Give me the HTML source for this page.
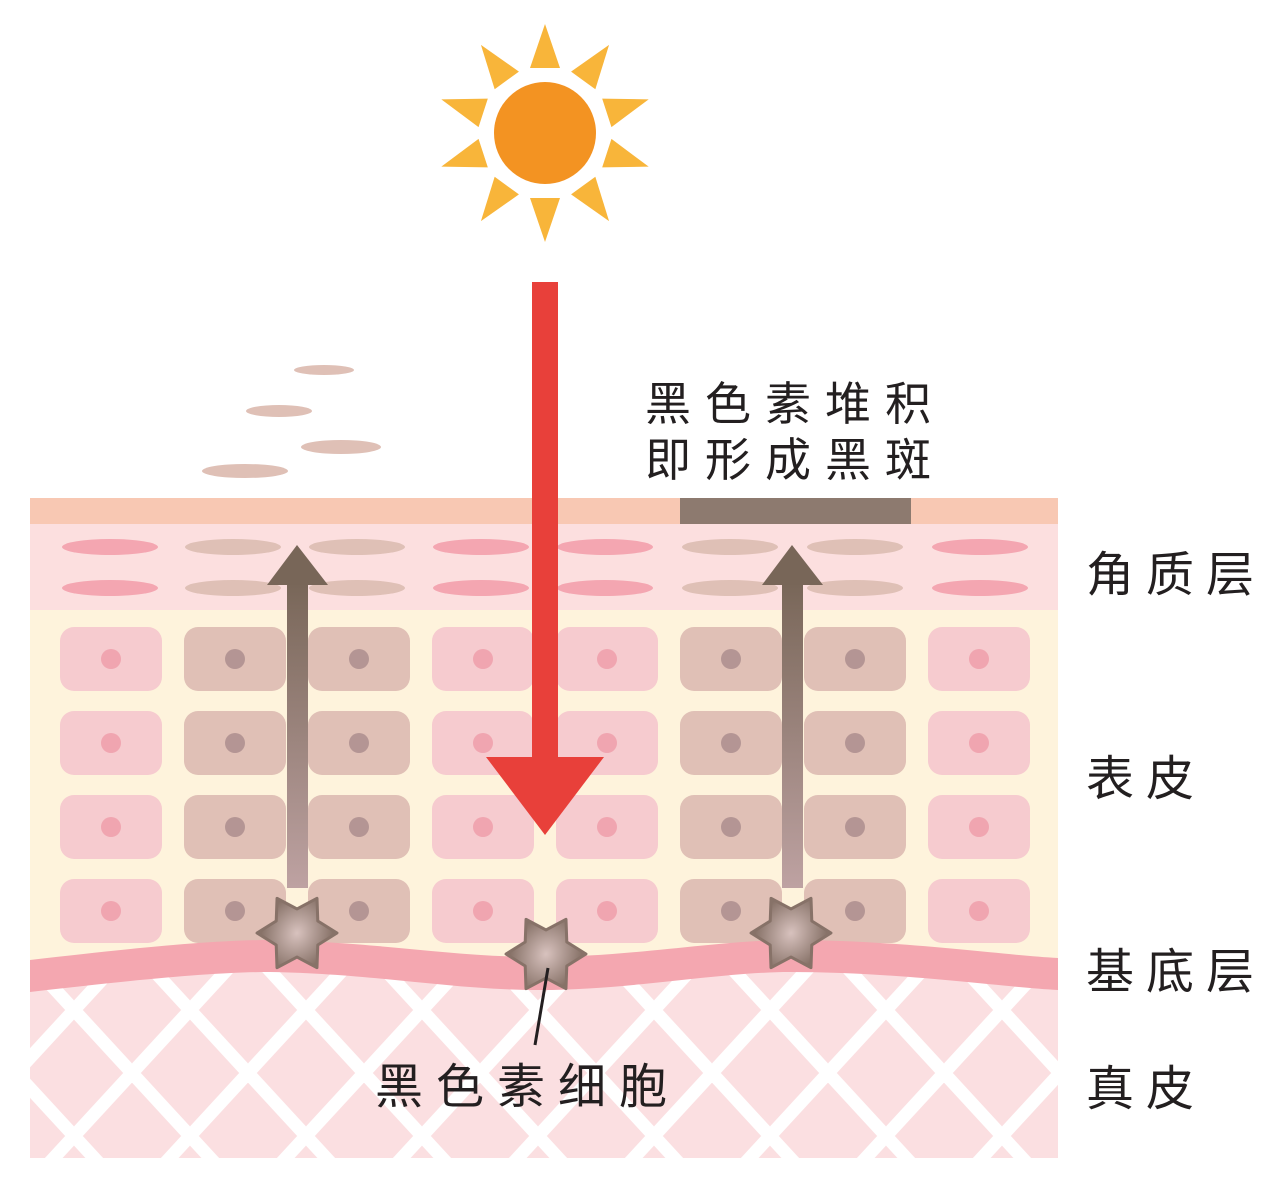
<!DOCTYPE html>
<html><head><meta charset="utf-8"><style>
html,body{margin:0;padding:0;background:#fff;}
svg{display:block;}
text{font-family:"Liberation Sans","Noto Sans CJK SC",sans-serif;fill:#231f20;}
</style></head><body>
<svg width="1280" height="1188" viewBox="0 0 1280 1188" xmlns="http://www.w3.org/2000/svg">
<defs>
<pattern id="lat" patternUnits="userSpaceOnUse" x="16" y="947" width="116" height="126">
<rect width="116" height="126" fill="#fbdfe1"/>
<line x1="-58" y1="-63" x2="174" y2="189" stroke="#fff" stroke-width="13"/>
<line x1="174" y1="-63" x2="-58" y2="189" stroke="#fff" stroke-width="13"/>
</pattern>
<linearGradient id="ag" x1="0" y1="0" x2="0" y2="1">
<stop offset="0" stop-color="#786658"/><stop offset="1" stop-color="#bea2a2"/>
</linearGradient>
<radialGradient id="sg" cx="0.5" cy="0.5" r="0.5">
<stop offset="0" stop-color="#d8c2be"/><stop offset="1" stop-color="#877268"/>
</radialGradient>
<g id="pc"><rect x="0" y="0" width="102" height="64" rx="14" fill="#f6cbcf"/><circle cx="51" cy="32" r="10" fill="#f0a5b0"/></g>
<g id="tc"><rect x="0" y="0" width="102" height="64" rx="14" fill="#e0c0b6"/><circle cx="51" cy="32" r="10" fill="#b49594"/></g>
<polygon id="star" points="0,-40 12,-20.8 34.6,-20 24,0 34.6,20 12,20.8 0,40 -12,20.8 -34.6,20 -24,0 -34.6,-20 -12,-20.8" fill="url(#sg)" stroke="#877268" stroke-width="3" stroke-linejoin="round"/>
<polygon id="ray" points="545,24 530,68 560,68" fill="#f8b53a"/>
</defs>

<!-- sun -->
<g>
<use href="#ray" transform="rotate(0 545 133)"/><use href="#ray" transform="rotate(36 545 133)"/>
<use href="#ray" transform="rotate(72 545 133)"/><use href="#ray" transform="rotate(108 545 133)"/>
<use href="#ray" transform="rotate(144 545 133)"/><use href="#ray" transform="rotate(180 545 133)"/>
<use href="#ray" transform="rotate(216 545 133)"/><use href="#ray" transform="rotate(252 545 133)"/>
<use href="#ray" transform="rotate(288 545 133)"/><use href="#ray" transform="rotate(324 545 133)"/>
<circle cx="545" cy="133" r="51" fill="#f39322"/>
</g>

<!-- flakes -->
<ellipse cx="324" cy="370" rx="30" ry="5" fill="#dfc0b6"/>
<ellipse cx="279" cy="411" rx="33" ry="6" fill="#dfc0b6"/>
<ellipse cx="341" cy="447" rx="40" ry="7" fill="#dfc0b6"/>
<ellipse cx="245" cy="471" rx="43" ry="7" fill="#dfc0b6"/>

<!-- layers -->
<rect x="30" y="498" width="1028" height="26" fill="#f8c8b3"/>
<rect x="680" y="498" width="231" height="26" fill="#8d7a6f"/>
<rect x="30" y="524" width="1028" height="86" fill="#fcdfdf"/>
<rect x="30" y="610" width="1028" height="370" fill="#fef3dc"/>
<rect x="30" y="960" width="1028" height="198" fill="url(#lat)"/>

<!-- corneum ellipses -->
<g>
<ellipse cx="110" cy="547" rx="48" ry="8" fill="#f4a6b1"/><ellipse cx="110" cy="588" rx="48" ry="8" fill="#f4a6b1"/>
<ellipse cx="233" cy="547" rx="48" ry="8" fill="#dfc0b6"/><ellipse cx="233" cy="588" rx="48" ry="8" fill="#dfc0b6"/>
<ellipse cx="357" cy="547" rx="48" ry="8" fill="#dfc0b6"/><ellipse cx="357" cy="588" rx="48" ry="8" fill="#dfc0b6"/>
<ellipse cx="481" cy="547" rx="48" ry="8" fill="#f4a6b1"/><ellipse cx="481" cy="588" rx="48" ry="8" fill="#f4a6b1"/>
<ellipse cx="605" cy="547" rx="48" ry="8" fill="#f4a6b1"/><ellipse cx="605" cy="588" rx="48" ry="8" fill="#f4a6b1"/>
<ellipse cx="730" cy="547" rx="48" ry="8" fill="#dfc0b6"/><ellipse cx="730" cy="588" rx="48" ry="8" fill="#dfc0b6"/>
<ellipse cx="855" cy="547" rx="48" ry="8" fill="#dfc0b6"/><ellipse cx="855" cy="588" rx="48" ry="8" fill="#dfc0b6"/>
<ellipse cx="980" cy="547" rx="48" ry="8" fill="#f4a6b1"/><ellipse cx="980" cy="588" rx="48" ry="8" fill="#f4a6b1"/>
</g>

<!-- cells -->
<g>
<use href="#pc" x="60" y="627"/><use href="#tc" x="184" y="627"/><use href="#tc" x="308" y="627"/><use href="#pc" x="432" y="627"/><use href="#pc" x="556" y="627"/><use href="#tc" x="680" y="627"/><use href="#tc" x="804" y="627"/><use href="#pc" x="928" y="627"/>
<use href="#pc" x="60" y="711"/><use href="#tc" x="184" y="711"/><use href="#tc" x="308" y="711"/><use href="#pc" x="432" y="711"/><use href="#pc" x="556" y="711"/><use href="#tc" x="680" y="711"/><use href="#tc" x="804" y="711"/><use href="#pc" x="928" y="711"/>
<use href="#pc" x="60" y="795"/><use href="#tc" x="184" y="795"/><use href="#tc" x="308" y="795"/><use href="#pc" x="432" y="795"/><use href="#pc" x="556" y="795"/><use href="#tc" x="680" y="795"/><use href="#tc" x="804" y="795"/><use href="#pc" x="928" y="795"/>
<use href="#pc" x="60" y="879"/><use href="#tc" x="184" y="879"/><use href="#tc" x="308" y="879"/><use href="#pc" x="432" y="879"/><use href="#pc" x="556" y="879"/><use href="#tc" x="680" y="879"/><use href="#tc" x="804" y="879"/><use href="#pc" x="928" y="879"/>
</g>

<!-- basal wave -->
<path d="M30,960 C150,946 220,940 270,940 C380,942 450,957 540,957 C630,957 720,940 790,940 C900,940 1000,955 1058,958 L1058,990 C1000,987 900,972 790,972 C720,972 630,990 540,990 C450,990 380,974 270,972 C220,972 150,978 30,992 Z" fill="#f4a7b0"/>

<!-- brown arrows -->
<rect x="287" y="582" width="21" height="306" fill="url(#ag)"/>
<polygon points="267,585 328,585 297,545" fill="#786658"/>
<rect x="782" y="582" width="21" height="306" fill="url(#ag)"/>
<polygon points="762,585 823,585 792,545" fill="#786658"/>

<!-- stars -->
<use href="#star" transform="translate(297 933) rotate(30)"/>
<use href="#star" transform="translate(546 954) rotate(30)"/>
<use href="#star" transform="translate(791 933) rotate(30)"/>

<!-- red arrow -->
<rect x="532" y="282" width="26" height="478" fill="#e8403a"/>
<polygon points="486,757 604,757 545,835" fill="#e8403a"/>

<!-- pointer line -->
<line x1="548" y1="968" x2="535" y2="1045" stroke="#231f20" stroke-width="3"/>

<!-- labels -->
<text x="645" y="420" font-size="46" letter-spacing="14">黑色素堆积</text>
<text x="645" y="476" font-size="46" letter-spacing="14">即形成黑斑</text>
<text x="1086" y="591" font-size="48" letter-spacing="12">角质层</text>
<text x="1086" y="795" font-size="48" letter-spacing="12">表皮</text>
<text x="1086" y="988" font-size="48" letter-spacing="12">基底层</text>
<text x="1086" y="1105" font-size="48" letter-spacing="12">真皮</text>
<text x="375" y="1103" font-size="48" letter-spacing="13">黑色素细胞</text>
</svg>
</body></html>
